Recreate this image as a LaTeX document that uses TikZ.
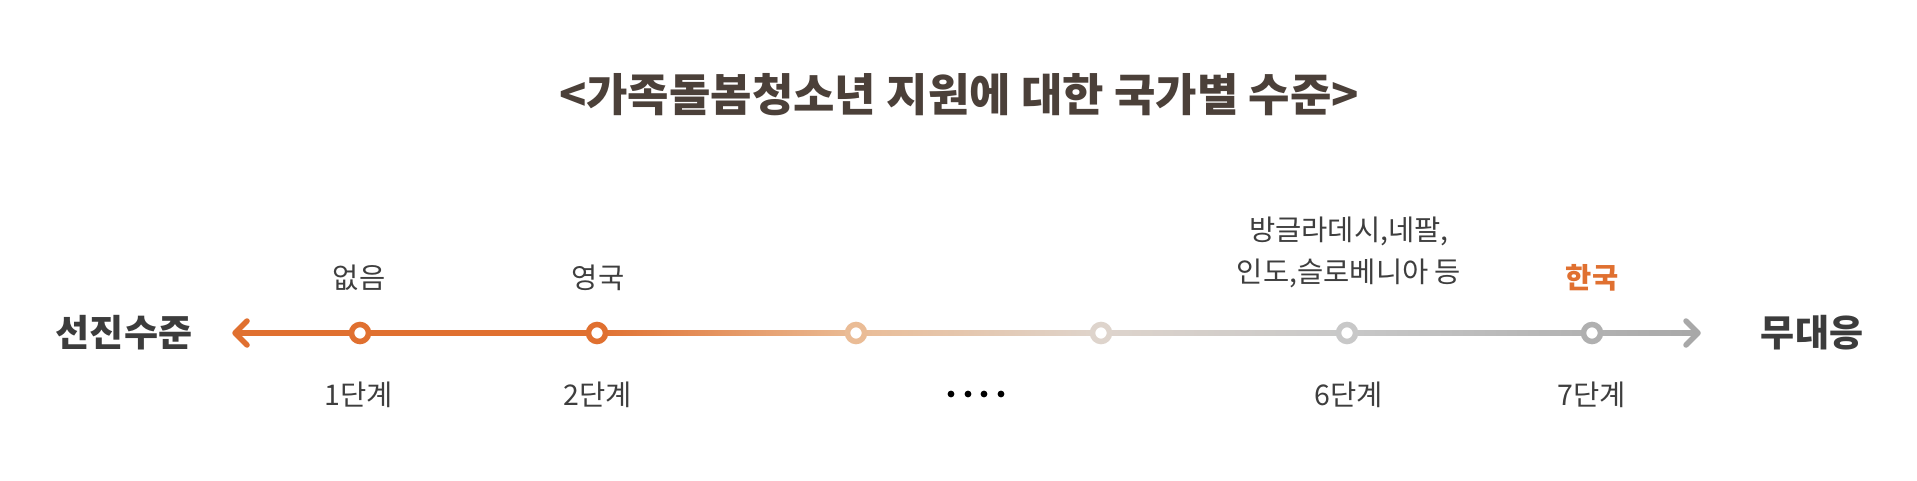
\documentclass[tikz,border=0pt]{standalone}
\usepackage{fontspec}
\setmainfont{Noto Sans CJK KR}
\usetikzlibrary{calc}
\definecolor{org}{RGB}{224,112,48}
\definecolor{peach}{RGB}{234,188,150}
\definecolor{beige}{RGB}{222,212,204}
\definecolor{lgray}{RGB}{200,200,200}
\definecolor{dgray}{RGB}{168,168,168}
\definecolor{c6col}{RGB}{176,176,176}
\definecolor{titlec}{RGB}{75,64,57}
\definecolor{sidec}{RGB}{60,60,60}
\definecolor{labc}{RGB}{62,62,62}
\begin{document}
\begin{tikzpicture}[x=1pt,y=-1pt,
  ring/.style={circle, draw=#1, line width=5.5pt, fill=white, minimum size=17pt, inner sep=0pt},
  lab/.style={inner sep=0pt, text=labc, font=\fontsize{28.5}{34}\selectfont},
  side/.style={inner sep=0pt, text=sidec, font=\bfseries\fontsize{37}{40}\selectfont},
  seg/.style={line width=5.5pt},
  chev/.style={line width=5.5pt, line cap=round, line join=round}]
\useasboundingbox[fill=white] (0,0) rectangle (1917,481);
% title
\node[inner sep=0pt, text=titlec, font=\bfseries\fontsize{45}{50}\selectfont] (title) at (959,95) {<가족돌봄청소년 지원에 대한 국가별 수준>};
% positions
\coordinate (L) at (235,333);
\coordinate (R) at (1698,333);
\coordinate (p1) at (360,333);
\coordinate (p2) at (597,333);
\coordinate (p3) at (856,333);
\coordinate (p4) at (1101,333);
\coordinate (p5) at (1347,333);
\coordinate (p6) at (1592,333);
% line
\draw[seg, org] (L) -- (p2);
\shade[left color=org, right color=peach] ($(p2)+(0,-2.75)$) rectangle ($(p3)+(0,2.75)$);
\shade[left color=peach, right color=beige] ($(p3)+(0,-2.75)$) rectangle ($(p4)+(0,2.75)$);
\shade[left color=beige, right color=lgray] ($(p4)+(0,-2.75)$) rectangle ($(p5)+(0,2.75)$);
\shade[left color=lgray, right color=dgray] ($(p5)+(0,-2.75)$) rectangle ($(R)+(0,2.75)$);
\draw[chev, org] ($(L)+(12,-12)$) -- (L) -- ($(L)+(12,12)$);
\draw[chev, dgray] ($(R)+(-12,-12)$) -- (R) -- ($(R)+(-12,12)$);
% rings
\node[ring=org] (c1) at (p1) {};
\node[ring=org] (c2) at (p2) {};
\node[ring=peach] (c3) at (p3) {};
\node[ring=beige] (c4) at (p4) {};
\node[ring=lgray] (c5) at (p5) {};
\node[ring=c6col] (c6) at (p6) {};
% side labels
\node[side] (left) at (124,333) {선진수준};
\node[side] (right) at (1812,333) {무대응};
% upper labels
\node[lab] (u1) at (359,278) {없음};
\node[lab] (u2) at (598,278) {영국};
\node[lab, align=center, font=\fontsize{28.5}{42}\selectfont] (u5) at (1349,252) {방글라데시,네팔,\\인도,슬로베니아 등};
\node[lab, text=org, font=\bfseries\fontsize{28.5}{34}\selectfont] (u6) at (1592,278) {한국};
% lower labels
\node[lab] (d1) at (359,395) {1단계};
\node[lab] (d2) at (598,395) {2단계};
\node[lab] (d5) at (1349,395) {6단계};
\node[lab] (d6) at (1592,395) {7단계};
% dots
\foreach \i/\x in {1/951,2/968,3/984,4/1001}
  \fill[black] (\x,394) circle (3.4);
\end{tikzpicture}
\end{document}
